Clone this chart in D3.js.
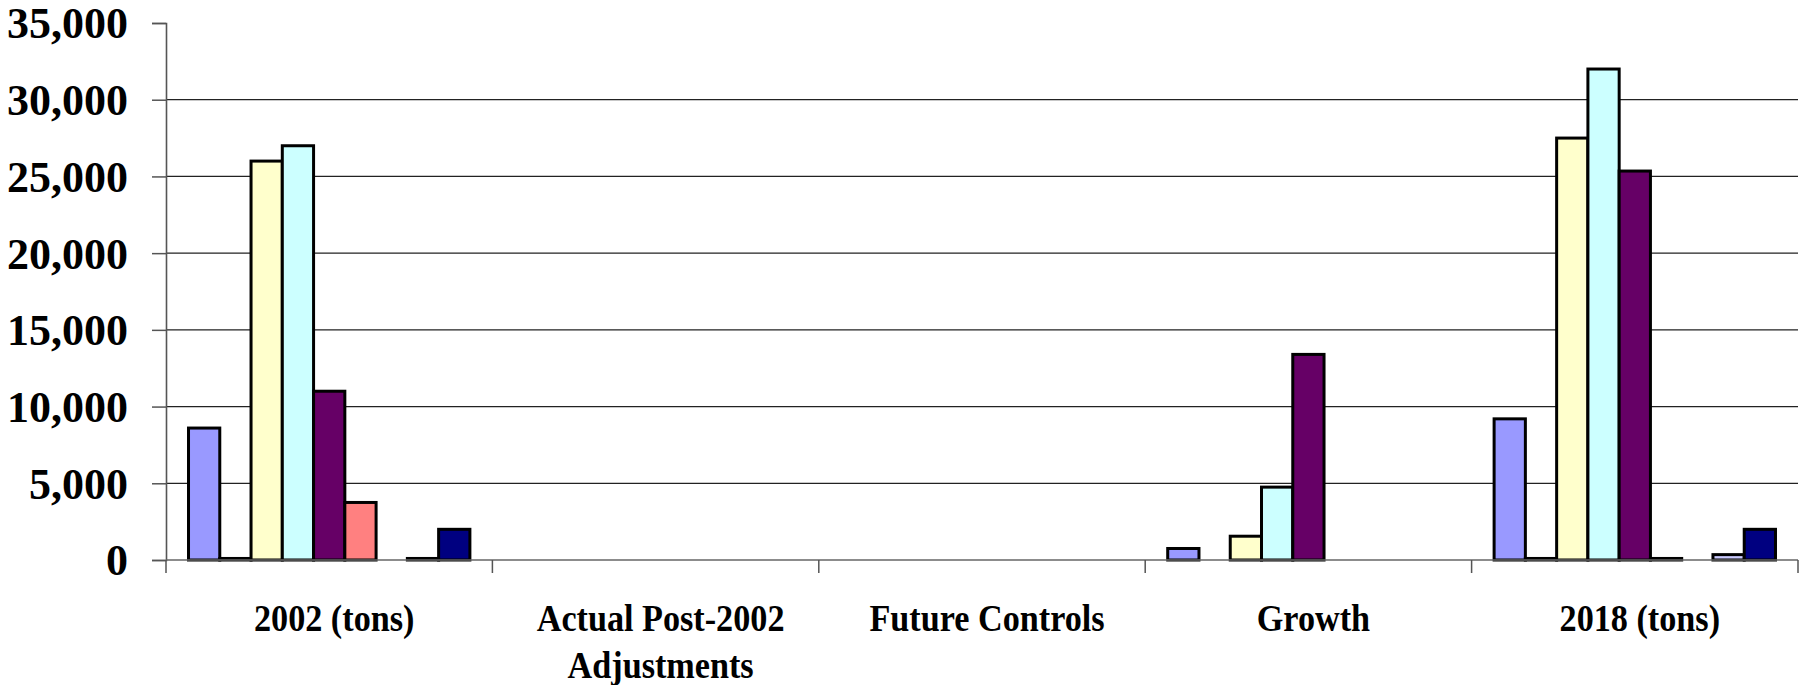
<!DOCTYPE html>
<html>
<head>
<meta charset="utf-8">
<script src="https://cdn.jsdelivr.net/npm/d3@7"></script>
<style>
  html, body { margin: 0; padding: 0; background: #fff; }
  svg { display: block; }
  text { font-family: "Liberation Serif", "Times New Roman", serif; font-weight: bold; fill: #000; }
</style>
</head>
<body>
<svg id="chart" width="1811" height="685"></svg>
<script>
// Emission categories along the x axis
const categories = ["2002 (tons)", "Actual Post-2002|Adjustments", "Future Controls", "Growth", "2018 (tons)"];

// Nine series per category (null = no bar drawn)
const seriesKeys = ["s1", "s2", "s3", "s4", "s5", "s6", "s7", "s8", "s9"];
const seriesColors = ["#9999FF", "#993366", "#FFFFCC", "#CCFFFF", "#660066", "#FF8080", "#0066CC", "#CCCCFF", "#000080"];

const values2002   = [8600, 100, 26000, 27000, 11000, 3750, null, 100, 2000];
const valuesActual = [null, null, null, null, null, null, null, null, null];
const valuesFuture = [null, null, null, null, null, null, null, null, null];
const valuesGrowth = [750, null, 1550, 4750, 13400, null, null, null, null];
const values2018   = [9200, 100, 27500, 32000, 25350, 100, null, 350, 2000];

const yTicks = [0, 5000, 10000, 15000, 20000, 25000, 30000, 35000];

const rows = [values2002, valuesActual, valuesFuture, valuesGrowth, values2018];

const svg = d3.select("#chart");
const plotLeft = 166, plotRight = 1798, plotTop = 23, plotBottom = 560;

const x0 = d3.scaleBand().domain(categories).range([plotLeft, plotRight]).padding(0);
const x1 = d3.scaleBand().domain(seriesKeys).range([0, x0.bandwidth()])
  .paddingInner(0).paddingOuter(0.72);
const y = d3.scaleLinear().domain([0, 35000]).range([plotBottom, plotTop]);
const color = d3.scaleOrdinal().domain(seriesKeys).range(seriesColors);
const fmt = d3.format(",");

// Horizontal gridlines (none at the top value)
svg.append("g")
  .selectAll("line")
  .data(yTicks.filter(t => t > 0 && t < 35000))
  .join("line")
  .attr("x1", plotLeft).attr("x2", plotRight)
  .attr("y1", d => y(d)).attr("y2", d => y(d))
  .attr("stroke", "#222").attr("stroke-width", 1.3);

// Y axis
const yAxis = svg.append("g")
  .attr("transform", `translate(${plotLeft},0)`)
  .call(d3.axisLeft(y).tickValues(yTicks).tickFormat(fmt).tickSize(14).tickPadding(24));
yAxis.select(".domain").attr("stroke", "#555").attr("stroke-width", 1.6);
yAxis.selectAll(".tick line").attr("stroke", "#555").attr("stroke-width", 1.5);
yAxis.selectAll(".tick text")
  .style("font-size", "44px")
  .attr("font-family", null)
  .attr("font-size", null)
  .attr("dy", "0.34em");

// Bars
const groups = svg.append("g")
  .selectAll("g")
  .data(categories.map((c, i) => ({ cat: c, vals: rows[i] })))
  .join("g")
  .attr("transform", d => `translate(${x0(d.cat)},0)`);

groups.selectAll("rect")
  .data(d => d.vals.map((v, j) => ({ key: seriesKeys[j], v })).filter(e => e.v != null))
  .join("rect")
  .attr("x", d => x1(d.key))
  .attr("width", x1.bandwidth())
  .attr("y", d => y(d.v))
  .attr("height", d => y(0) - y(d.v))
  .attr("fill", d => color(d.key))
  .attr("stroke", "#000")
  .attr("stroke-width", 3);

// X axis baseline and category boundary ticks
svg.append("line")
  .attr("x1", plotLeft).attr("x2", plotRight)
  .attr("y1", plotBottom).attr("y2", plotBottom)
  .attr("stroke", "#666").attr("stroke-width", 1.6);

const bounds = categories.map(c => x0(c)).concat([plotRight]);
svg.append("g")
  .selectAll("line")
  .data(bounds)
  .join("line")
  .attr("x1", d => d).attr("x2", d => d)
  .attr("y1", plotBottom).attr("y2", plotBottom + 13)
  .attr("stroke", "#555").attr("stroke-width", 1.5);

// Category labels (two lines where split by "|"), slightly condensed
const labels = svg.append("g")
  .selectAll("text")
  .data(categories)
  .join("text")
  .attr("text-anchor", "middle")
  .attr("transform", d => `translate(${x0(d) + x0.bandwidth() / 2 + 5},631) scale(0.9,1)`)
  .style("font-size", "38px");
labels.each(function(d) {
  d3.select(this).selectAll("tspan")
    .data(d.split("|"))
    .join("tspan")
    .attr("x", 0)
    .attr("dy", (p, i) => i === 0 ? 0 : 47)
    .text(p => p);
});
</script>
</body>
</html>
